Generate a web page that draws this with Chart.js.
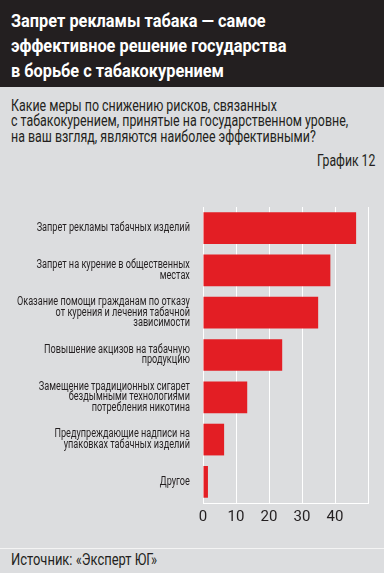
<!DOCTYPE html>
<html>
<head>
<meta charset="utf-8">
<script src="https://cdn.jsdelivr.net/npm/chart.js"></script>
<style>
  html, body { margin: 0; padding: 0; }
  body {
    width: 384px; height: 573px; position: relative; overflow: hidden;
    background: #dcdddf; color: #231f20;
    font-family: Roboto, "Liberation Sans", sans-serif;
  }
  .fit { position: absolute; white-space: nowrap; transform-origin: 0 0; }
  .head {
    position: absolute; left: 0; top: 0; width: 384px; height: 87px;
    background: #231f20;
  }
  .title {
    left: 11px; top: 8px; margin: 0;
    font-size: 19px; line-height: 25px; font-weight: bold; color: #fff;
  }
  .question { left: 11px; top: 98px; font-size: 16.5px; line-height: 15.4px; }
  .num { left: 317px; top: 153px; font-size: 16px; line-height: 16px; }
  .chart-box { position: absolute; left: 0; top: 190px; width: 384px; height: 350px; }
  .foot-line { position: absolute; left: 0; top: 548px; width: 384px; height: 1px; background: #f4f4f4; }
  .source { left: 11px; top: 551px; font-size: 16.5px; line-height: 17px; }
</style>
</head>
<body>
<div class="head">
  <h1 class="fit title" data-w="275">Запрет рекламы табака — самое<br>эффективное решение государства<br>в борьбе с табакокурением</h1>
</div>
<div class="fit question" data-w="337">Какие меры по снижению рисков, связанных<br>с табакокурением, принятые на государственном уровне,<br>на ваш взгляд, являются наиболее эффективными?</div>
<div class="fit num" data-w="58">График 12</div>
<div class="chart-box"><canvas id="barChart" width="384" height="350"></canvas></div>
<div class="foot-line"></div>
<div class="fit source" data-w="146">Источник: «Эксперт ЮГ»</div>

<script>
// категории (многострочные подписи)
const categories = [
    ["Запрет рекламы табачных изделий"],
    ["Запрет на курение в общественных", "местах"],
    ["Оказание помощи гражданам по отказу", "от курения и лечения табачной", "зависимости"],
    ["Повышение акцизов на табачную", "продукцию"],
    ["Замещение традиционных сигарет", "бездымными технологиями", "потребления никотина"],
    ["Предупреждающие надписи на", "упаковках табачных изделий"],
    ["Другое"]
];
// значения, % (оценка по картинке)
const values = [46.4, 38.6, 34.9, 24, 13.4, 6.4, 1.5];
// подписи оси X (на 50 только линия сетки)
const xTickLabels = [0, 10, 20, 30, 40];

const FONT = 'Roboto, "Liberation Sans", sans-serif';

// узкий шрифт недоступен — сжимаем текст по ширине
function fitText() {
    document.querySelectorAll(".fit").forEach(function (el) {
        const k = parseFloat(el.dataset.w) / el.scrollWidth;
        el.style.transform = "scaleX(" + k + ")";
    });
}

// сжатие подписей категорий вокруг их правого края
const condenseY = {
    id: "condenseY",
    afterLayout(chart) {
        const s = chart.scales.y;
        if (s._condensed) return;
        const pad = s.options.ticks.padding;
        const ctx = chart.ctx;
        ctx.save();
        ctx.font = s.options.ticks.font.size + "px " + FONT;
        let maxW = 0;
        categories.forEach(lines => lines.forEach(t => { maxW = Math.max(maxW, ctx.measureText(t).width); }));
        ctx.restore();
        const k = 173 / maxW;
        const orig = s.drawLabels;
        s._computeLabelArea = () => undefined; // без обрезки по краю оси
        s.drawLabels = function (area) {
            const x0 = this.right - pad;
            this.ctx.save();
            this.ctx.translate(x0, 0);
            this.ctx.scale(k, 1);
            this.ctx.translate(-x0, 0);
            orig.call(this, area);
            this.ctx.restore();
        };
        s._condensed = true;
    }
};

document.addEventListener("DOMContentLoaded", function () {
    fitText();

    const canvas = document.getElementById("barChart");
    if (!canvas) return;

    Chart.defaults.font.family = FONT;
    Chart.defaults.color = "#231f20";

    new Chart(canvas.getContext("2d"), {
        type: "bar",
        data: {
            labels: categories,
            datasets: [{
                data: values,
                backgroundColor: "#e31e24",
                borderWidth: 0,
                barPercentage: 0.75,
                categoryPercentage: 1
            }]
        },
        options: {
            indexAxis: "y",
            responsive: false,
            maintainAspectRatio: false,
            animation: false,
            layout: { padding: { top: 17, right: 16, left: 0, bottom: 0 } },
            plugins: {
                legend: { display: false },
                tooltip: { enabled: false }
            },
            scales: {
                x: {
                    min: 0,
                    max: 50,
                    ticks: {
                        stepSize: 10,
                        padding: 5,
                        font: { size: 15 },
                        color: "#231f20",
                        maxRotation: 0,
                        callback: (v) => xTickLabels.includes(v) ? String(v) : ""
                    },
                    grid: { color: "#ffffff", lineWidth: 1, drawTicks: false },
                    border: { color: "#ffffff", width: 1 },
                    afterFit: (s) => { s.height = 37; }
                },
                y: {
                    grid: { display: false },
                    border: { display: false },
                    ticks: {
                        padding: 7,
                        font: { size: 12, lineHeight: 0.87 },
                        color: "#231f20"
                    },
                    afterFit: (s) => { s.width = 203; }
                }
            }
        },
        plugins: [condenseY]
    });
});
</script>
</body>
</html>
